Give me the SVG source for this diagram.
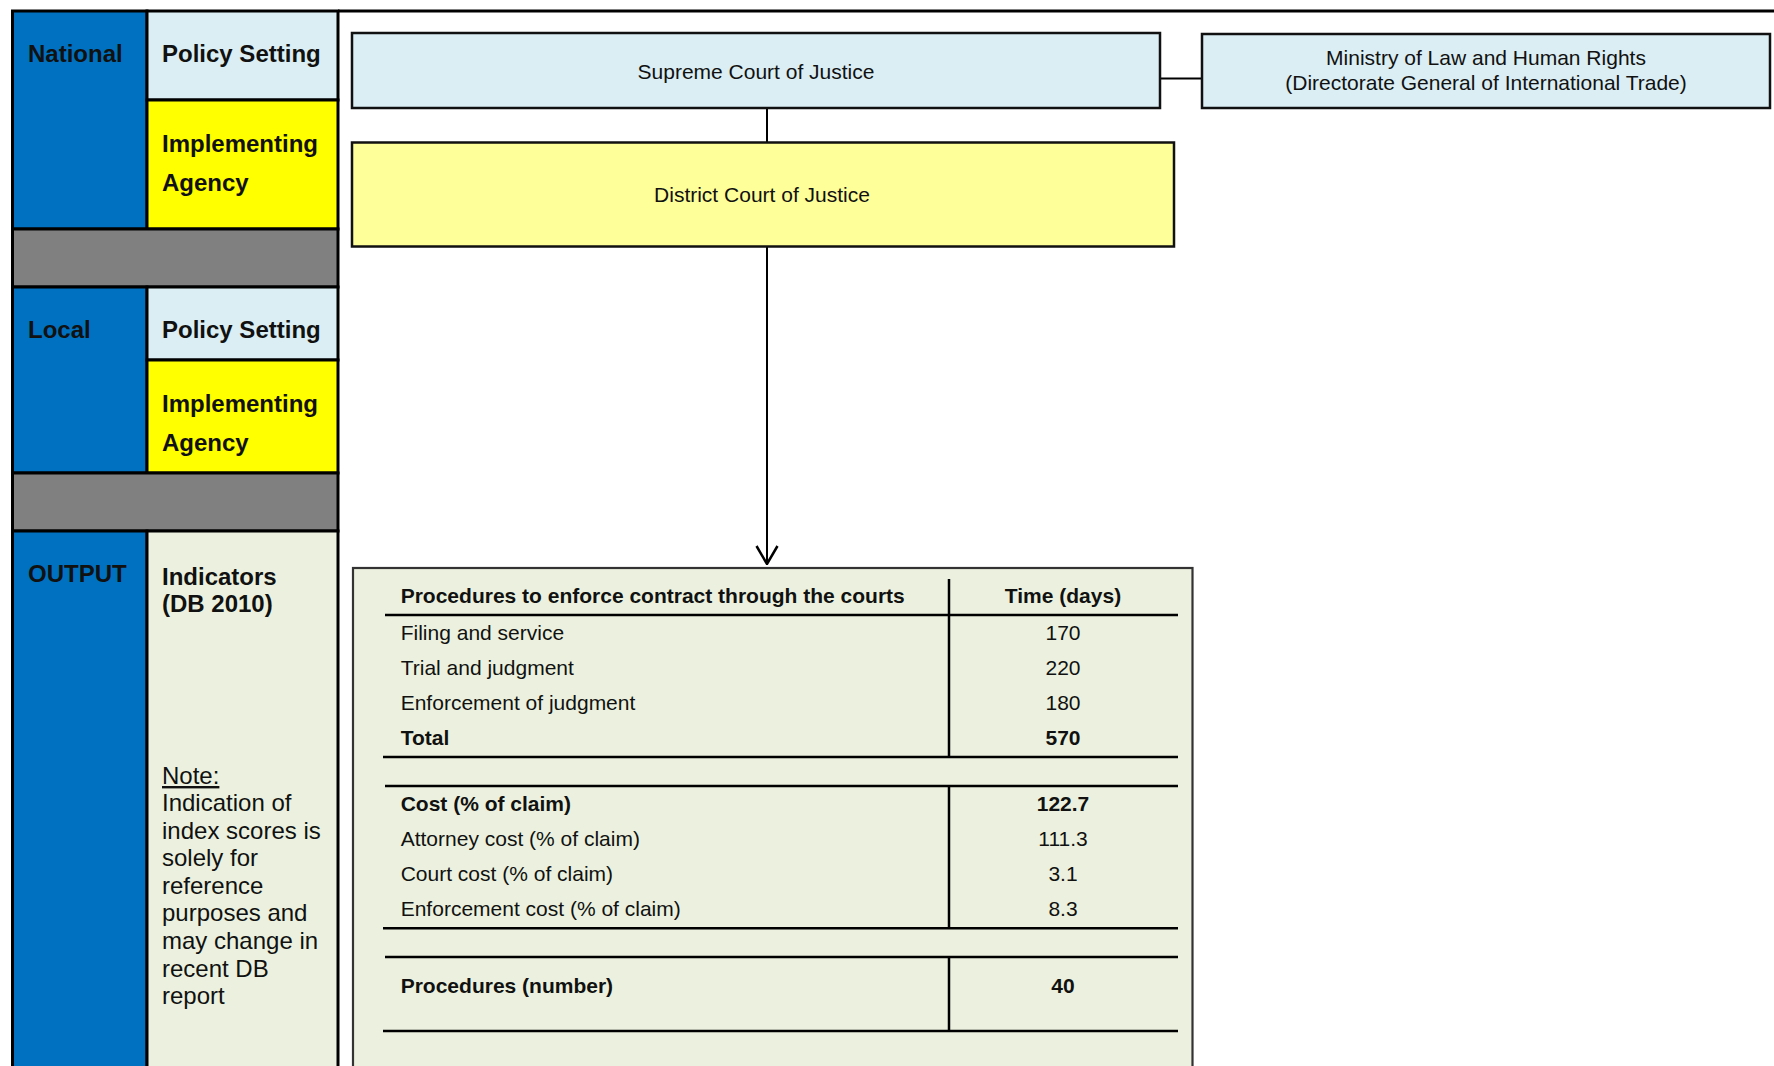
<svg xmlns="http://www.w3.org/2000/svg" width="1774" height="1066" viewBox="0 0 1774 1066">
<style>
  text { font-family: "Liberation Sans", Arial, sans-serif; fill: #111; }
  .lbl { font-size: 24px; font-weight: bold; }
  .note { font-size: 24px; }
  .bx { font-size: 21px; }
  .t { font-size: 21px; }
  .b { font-weight: bold; }
  .mid { text-anchor: middle; }
  .cell { stroke: #000; stroke-width: 3; }
  .blue { fill: #0070C0; }
  .lblue { fill: #DAEEF3; }
  .yel { fill: #FFFF00; }
  .gray { fill: #808080; }
  .lgreen { fill: #EBF1DE; }
  .node { stroke: #111; stroke-width: 2.5; }
  .conn { stroke: #000; stroke-width: 2; fill: none; }
  .rule { stroke: #000; stroke-width: 2.5; }
</style>
<defs>
  <marker id="arrow" markerUnits="userSpaceOnUse" viewBox="0 0 20 24" markerWidth="20" markerHeight="24" refX="19" refY="12" orient="auto">
    <path d="M1,1.5 L19,12 L1,22.5" fill="none" stroke="#000" stroke-width="2.5"/>
  </marker>
</defs>
<rect x="0" y="0" width="1774" height="1066" fill="#fff"/>

<g id="left-panel">
  <g id="national">
    <rect class="cell blue" x="12.5" y="11" width="134.5" height="218"/>
    <rect class="cell lblue" x="147" y="11" width="191" height="89"/>
    <rect class="cell yel" x="147" y="100" width="191" height="129"/>
    <text class="lbl" x="28" y="62">National</text>
    <text class="lbl" x="162" y="62">Policy Setting</text>
    <text class="lbl" x="162" y="152">Implementing</text>
    <text class="lbl" x="162" y="191">Agency</text>
  </g>
  <g id="sep1"><rect class="cell gray" x="12.5" y="229" width="325.5" height="58"/></g>
  <g id="local">
    <rect class="cell blue" x="12.5" y="287" width="134.5" height="186"/>
    <rect class="cell lblue" x="147" y="287" width="191" height="73"/>
    <rect class="cell yel" x="147" y="360" width="191" height="113"/>
    <text class="lbl" x="28" y="338">Local</text>
    <text class="lbl" x="162" y="338">Policy Setting</text>
    <text class="lbl" x="162" y="412">Implementing</text>
    <text class="lbl" x="162" y="451">Agency</text>
  </g>
  <g id="sep2"><rect class="cell gray" x="12.5" y="473" width="325.5" height="58"/></g>
  <g id="output">
    <rect class="cell blue" x="12.5" y="531" width="134.5" height="545"/>
    <rect class="cell lgreen" x="147" y="531" width="191" height="545"/>
    <text class="lbl" x="28" y="582">OUTPUT</text>
    <text class="lbl" x="162" y="585">Indicators</text>
    <text class="lbl" x="162" y="612">(DB 2010)</text>
    <text class="note" x="162" y="784" text-decoration="underline">Note:</text>
    <text class="note" x="162" y="811">Indication of</text>
    <text class="note" x="162" y="838.6">index scores is</text>
    <text class="note" x="162" y="866.2">solely for</text>
    <text class="note" x="162" y="893.8">reference</text>
    <text class="note" x="162" y="921.4">purposes and</text>
    <text class="note" x="162" y="949">may change in</text>
    <text class="note" x="162" y="976.6">recent DB</text>
    <text class="note" x="162" y="1004.2">report</text>
  </g>
</g>
<line x1="338" y1="11" x2="1774" y2="11" stroke="#000" stroke-width="3"/>

<g id="connectors">
  <line class="conn" x1="1161" y1="78.5" x2="1202" y2="78.5"/>
  <line class="conn" x1="767" y1="108" x2="767" y2="142"/>
  <line class="conn" x1="767" y1="247" x2="767" y2="564" marker-end="url(#arrow)"/>
</g>

<g id="supreme-court">
  <rect class="node lblue" x="352" y="33" width="808" height="75"/>
  <text class="bx mid" x="756" y="79">Supreme Court of Justice</text>
</g>
<g id="ministry">
  <rect class="node lblue" x="1202" y="34" width="568" height="74"/>
  <text class="bx mid" x="1486" y="65">Ministry of Law and Human Rights</text>
  <text class="bx mid" x="1486" y="90">(Directorate General of International Trade)</text>
</g>
<g id="district-court">
  <rect class="node" fill="#FFFF99" x="352" y="142.5" width="822" height="104"/>
  <text class="bx mid" x="762" y="202">District Court of Justice</text>
</g>

<g id="indicators-table">
  <rect x="353" y="568" width="839.5" height="510" fill="#EBF1DE" stroke="#333" stroke-width="2.2"/>
  <line class="rule" x1="385" y1="615" x2="1178" y2="615"/>
  <line class="rule" x1="383" y1="757" x2="1178" y2="757"/>
  <line class="rule" x1="385" y1="786" x2="1178" y2="786"/>
  <line class="rule" x1="383" y1="928.3" x2="1178" y2="928.3"/>
  <line class="rule" x1="385" y1="957" x2="1178" y2="957"/>
  <line class="rule" x1="383" y1="1031" x2="1178" y2="1031"/>
  <line class="rule" x1="949" y1="579" x2="949" y2="757"/>
  <line class="rule" x1="949" y1="786" x2="949" y2="928.3"/>
  <line class="rule" x1="949" y1="957" x2="949" y2="1031"/>

  <text class="t b" x="400.7" y="603">Procedures to enforce contract through the courts</text>
  <text class="t b mid" x="1063" y="603">Time (days)</text>
  <text class="t" x="400.7" y="640">Filing and service</text>
  <text class="t mid" x="1063" y="640">170</text>
  <text class="t" x="400.7" y="675">Trial and judgment</text>
  <text class="t mid" x="1063" y="675">220</text>
  <text class="t" x="400.7" y="710">Enforcement of judgment</text>
  <text class="t mid" x="1063" y="710">180</text>
  <text class="t b" x="400.7" y="745">Total</text>
  <text class="t b mid" x="1063" y="745">570</text>

  <text class="t b" x="400.7" y="811">Cost (% of claim)</text>
  <text class="t b mid" x="1063" y="811">122.7</text>
  <text class="t" x="400.7" y="846">Attorney cost (% of claim)</text>
  <text class="t mid" x="1063" y="846">111.3</text>
  <text class="t" x="400.7" y="881">Court cost (% of claim)</text>
  <text class="t mid" x="1063" y="881">3.1</text>
  <text class="t" x="400.7" y="916">Enforcement cost (% of claim)</text>
  <text class="t mid" x="1063" y="916">8.3</text>

  <text class="t b" x="400.7" y="993">Procedures (number)</text>
  <text class="t b mid" x="1063" y="993">40</text>
</g>
</svg>
